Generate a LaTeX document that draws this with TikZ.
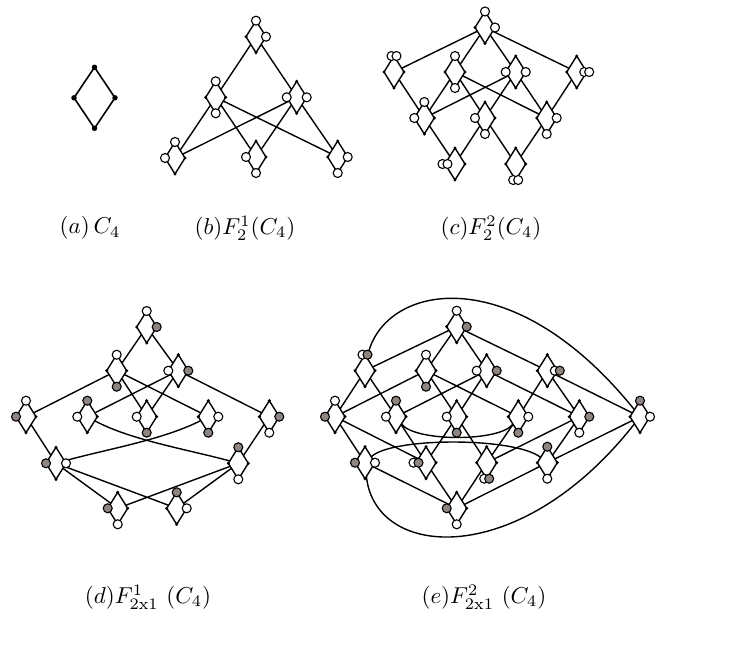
\documentclass[tikz,border=0pt]{standalone}
\usetikzlibrary{shapes.geometric}
\pgfdeclarelayer{bg}
\pgfsetlayers{bg,main}
\definecolor{cgray}{RGB}{142,133,128}
\tikzset{
  sdia/.style={shape=diamond, draw=black, fill=white, line width=1.4pt, minimum width=20pt, minimum height=32pt, inner sep=0pt, outer sep=0pt},
  bdia/.style={shape=diamond, draw=black, line width=1.6pt, minimum width=41pt, minimum height=61pt, inner sep=0pt, outer sep=0pt},
  vdot/.style={circle, fill=black, inner sep=0pt, minimum size=3.4pt},
  bdot/.style={circle, fill=black, inner sep=0pt, minimum size=5.5pt},
  wc/.style={circle, draw=black, fill=white, line width=1.1pt, inner sep=0pt, minimum size=9pt},
  gc/.style={wc, fill=cgray},
  ed/.style={line width=1.4pt},
  lab/.style={inner sep=0pt},
}
\newcommand{\mkd}[2]{%
  \node[sdia] (#1) at (#2) {};
  \foreach \vv in {north,south,east,west}{\node[vdot] (#1-\vv) at (#1.\vv) {};}%
}
\newcommand{\cW}[2]{\node[wc] (#1-o#2) at (#1.#2) {};}
\newcommand{\cG}[2]{\node[gc] (#1-o#2) at (#1.#2) {};}
\newcommand{\cWW}[2]{\node[wc,xshift=-2.5pt] (#1-o#2a) at (#1.#2) {};\node[wc,xshift=2.5pt] (#1-o#2b) at (#1.#2) {};}
\newcommand{\cWG}[2]{\node[wc,xshift=-2.5pt] (#1-o#2a) at (#1.#2) {};\node[gc,xshift=2.5pt] (#1-o#2b) at (#1.#2) {};}
\begin{document}
\begin{tikzpicture}[x=1pt,y=-1pt]
\useasboundingbox (0,0) rectangle (752,655);
% ---------------- (a)
\node[bdia] (a) at (94.5,97.8) {};
\foreach \vv in {north,south,east,west}{\node[bdot] (a-\vv) at (a.\vv) {};}
% ---------------- (b)
\mkd{bT}{256,36.7}\cW{bT}{north}\cW{bT}{east}
\mkd{bML}{215.7,97.3}\cW{bML}{north}\cW{bML}{south}
\mkd{bMR}{296.7,97.3}\cW{bMR}{west}\cW{bMR}{east}
\mkd{bBL}{175,158}\cW{bBL}{north}\cW{bBL}{west}
\mkd{bBM}{256,157}\cW{bBM}{west}\cW{bBM}{south}
\mkd{bBR}{337.7,157}\cW{bBR}{east}\cW{bBR}{south}
\begin{pgfonlayer}{bg}
\draw[ed] (bT)--(bML) (bT)--(bMR)
  (bML)--(bBL) (bML)--(bBM) (bML)--(bBR)
  (bMR)--(bBL) (bMR)--(bBM) (bMR)--(bBR);
\end{pgfonlayer}
% ---------------- (c)
\mkd{cT}{485,27.5}\cW{cT}{north}\cW{cT}{east}
\mkd{cA}{394,72}\cWW{cA}{north}
\mkd{cB}{455,72}\cW{cB}{north}\cW{cB}{south}
\mkd{cC}{515.7,72}\cW{cC}{west}\cW{cC}{east}
\mkd{cD}{576.7,72}\cWW{cD}{east}
\mkd{cE}{424.3,118}\cW{cE}{north}\cW{cE}{west}
\mkd{cF}{485,118}\cW{cF}{west}\cW{cF}{south}
\mkd{cG}{546.7,118}\cW{cG}{east}\cW{cG}{south}
\mkd{cH}{455,164}\cWW{cH}{west}
\mkd{cI}{515.7,164}\cWW{cI}{south}
\begin{pgfonlayer}{bg}
\draw[ed] (cT)--(cA) (cT)--(cB) (cT)--(cC) (cT)--(cD)
  (cA)--(cE) (cB)--(cE) (cB)--(cF) (cB)--(cG)
  (cC)--(cE) (cC)--(cF) (cC)--(cG) (cD)--(cG)
  (cE)--(cH) (cF)--(cH) (cF)--(cI) (cG)--(cI);
\end{pgfonlayer}
% ---------------- (d)
\mkd{dT}{146.7,327}\cW{dT}{north}\cG{dT}{east}
\mkd{dML}{116.7,370.7}\cW{dML}{north}\cG{dML}{south}
\mkd{dMR}{178.3,370.7}\cW{dMR}{west}\cG{dMR}{east}
\mkd{dA}{26,416.7}\cW{dA}{north}\cG{dA}{west}
\mkd{dB}{87.3,416.7}\cG{dB}{north}\cW{dB}{west}
\mkd{dC}{146.7,416.7}\cW{dC}{west}\cG{dC}{south}
\mkd{dD}{208.3,416.7}\cW{dD}{east}\cG{dD}{south}
\mkd{dE}{269.3,416.7}\cG{dE}{east}\cW{dE}{south}
\mkd{dF}{56,463.3}\cG{dF}{west}\cW{dF}{east}
\mkd{dG}{238.3,463.3}\cG{dG}{north}\cW{dG}{south}
\mkd{dH}{117.7,508.3}\cG{dH}{west}\cW{dH}{south}
\mkd{dI}{176.7,508.3}\cG{dI}{north}\cW{dI}{east}
\begin{pgfonlayer}{bg}
\draw[ed] (dT)--(dML) (dT)--(dMR)
  (dML)--(dA) (dML)--(dC) (dML)--(dD)
  (dMR)--(dB) (dMR)--(dC) (dMR)--(dE)
  (dA)--(dF) (dE)--(dG)
  (dF)--(dH) (dF)--(dI) (dG)--(dH) (dG)--(dI);
\draw[ed] (dB) .. controls (130,440) and (190,450) .. (dG);
\draw[ed] (dD) .. controls (163,440) and (103,450) .. (dF);
\end{pgfonlayer}
% ---------------- (e)
\mkd{eT}{456.7,326.7}\cW{eT}{north}\cG{eT}{east}
\mkd{eA}{365,370.7}\cWG{eA}{north}
\mkd{eB}{426,370.7}\cW{eB}{north}\cG{eB}{south}
\mkd{eC}{486.7,370.7}\cW{eC}{west}\cG{eC}{east}
\mkd{eD}{547.3,370.7}\cWG{eD}{east}
\mkd{eL}{335,416.7}\cW{eL}{north}\cG{eL}{west}
\mkd{eM}{396,416.7}\cG{eM}{north}\cW{eM}{west}
\mkd{eN}{456.7,416.7}\cW{eN}{west}\cG{eN}{south}
\mkd{eO}{518.3,416.7}\cW{eO}{east}\cG{eO}{south}
\mkd{eP}{579.3,416.7}\cG{eP}{east}\cW{eP}{south}
\mkd{eQ}{640,416.7}\cG{eQ}{north}\cW{eQ}{east}
\mkd{eR}{365,462.7}\cG{eR}{west}\cW{eR}{east}
\mkd{eS}{426,462.7}\cWG{eS}{west}
\mkd{eU}{486.7,462.7}\cWG{eU}{south}
\mkd{eV}{547.3,462.7}\cG{eV}{north}\cW{eV}{south}
\mkd{eW}{456.7,508.3}\cG{eW}{west}\cW{eW}{south}
\begin{pgfonlayer}{bg}
\draw[ed] (eT)--(eA) (eT)--(eB) (eT)--(eC) (eT)--(eD)
  (eA)--(eL) (eA)--(eM)
  (eB)--(eL) (eB)--(eN) (eB)--(eO)
  (eC)--(eM) (eC)--(eN) (eC)--(eP)
  (eD)--(eO) (eD)--(eP) (eD)--(eQ)
  (eL)--(eR) (eL)--(eS) (eM)--(eS)
  (eN)--(eS) (eN)--(eU) (eO)--(eU)
  (eP)--(eU) (eP)--(eV) (eQ)--(eV)
  (eR)--(eW) (eS)--(eW) (eU)--(eW) (eV)--(eW);
\draw[ed] (eA) .. controls (380,285) and (510,255) .. (eQ);
\draw[ed] (eR) .. controls (375,560) and (520,570) .. (eQ);
\draw[ed] (eM) .. controls (415,442) and (500,442) .. (eO);
\draw[ed] (eR) .. controls (392,437) and (515,437) .. (eV);
\end{pgfonlayer}
% ---------------- labels
\node[lab] (la) at (90,228) {\scalebox{2.3}{$(a)\,C_4$}};
\node[lab] (lb) at (245,228) {\scalebox{2.3}{$(b)F_2^1(C_4)$}};
\node[lab] (lc) at (491,228) {\scalebox{2.3}{$(c)F_2^2(C_4)$}};
\node[lab] (ld) at (148,597) {\scalebox{2.3}{$(d)F^{1}_{\mathrm{2x1}}\ (C_4)$}};
\node[lab] (le) at (484,597) {\scalebox{2.3}{$(e)F^{2}_{\mathrm{2x1}}\ (C_4)$}};
\end{tikzpicture}
\end{document}
